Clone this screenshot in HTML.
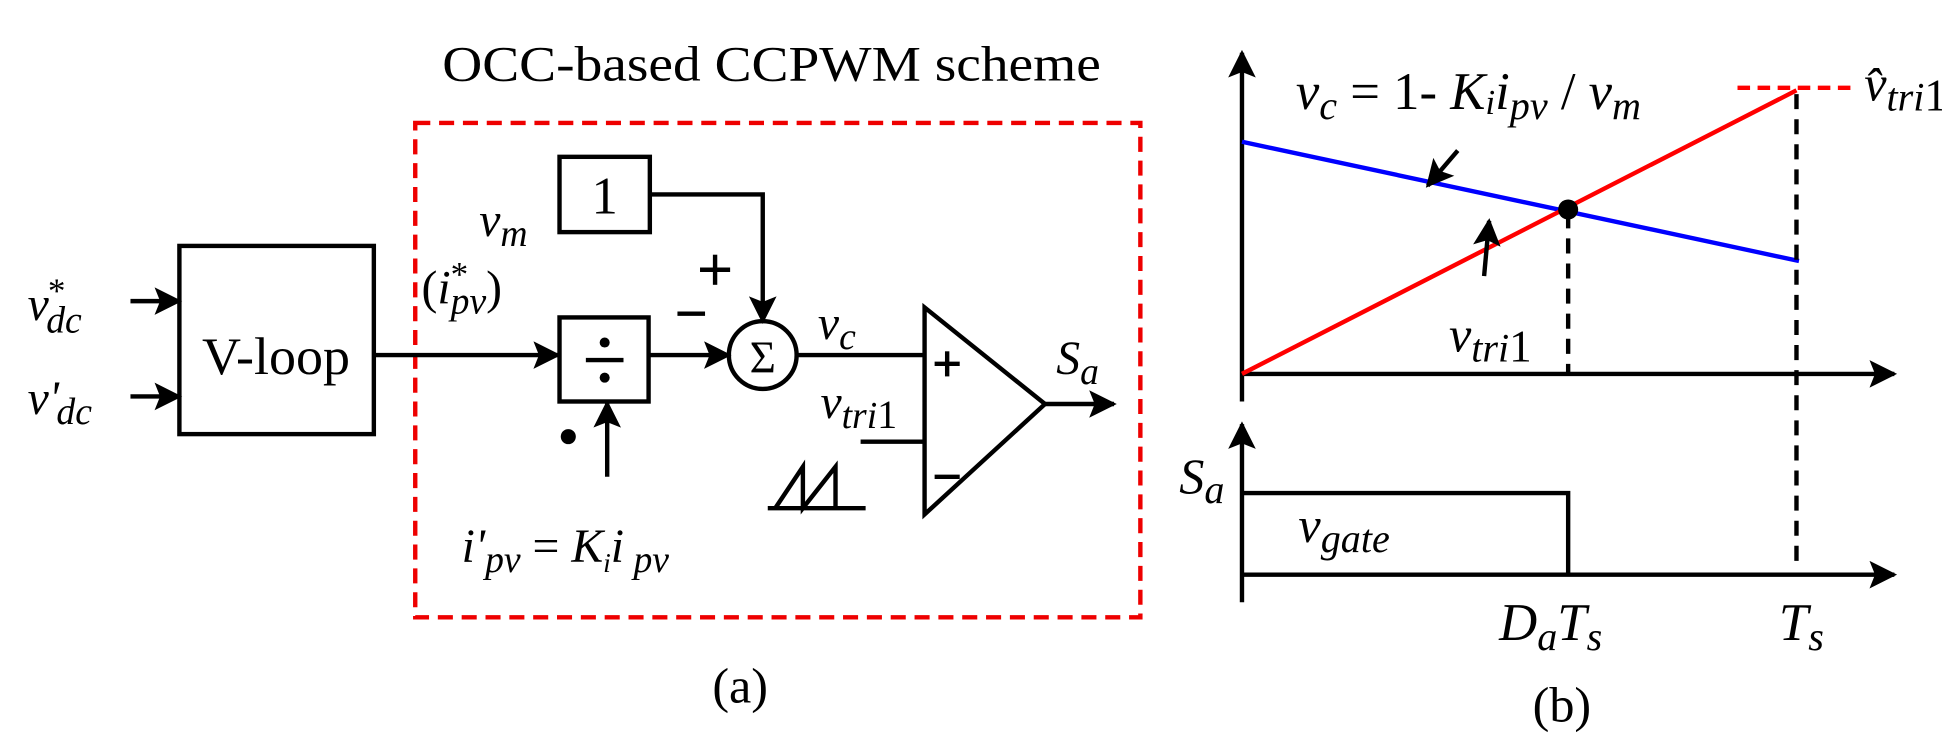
<!DOCTYPE html>
<html><head><style>
html,body{margin:0;padding:0;background:#fff}
svg{display:block}
text{font-family:"Liberation Serif",serif;fill:#000}
.i{font-style:italic}
</style></head><body>
<svg width="1942" height="739" viewBox="0 0 1548 589" preserveAspectRatio="none" xmlns="http://www.w3.org/2000/svg">
<defs>
<marker id="a" viewBox="0 0 10 10" refX="9" refY="5" markerWidth="26" markerHeight="22" markerUnits="userSpaceOnUse" orient="auto"><path d="M0,0L10,5L0,10L2,5z" fill="#000"/></marker>
</defs>
<g stroke="#000" stroke-width="3.5" fill="none">
<text x="615" y="64" font-size="40" text-anchor="middle" stroke="none" textLength="525" lengthAdjust="spacingAndGlyphs">OCC-based CCPWM scheme</text>
<rect x="331" y="98" width="578" height="394" stroke="#e00" stroke-dasharray="12,7"/>
<rect x="143" y="196" width="155" height="150"/>
<line x1="104" y1="240" x2="143" y2="240" marker-end="url(#a)"/>
<line x1="104" y1="316" x2="143" y2="316" marker-end="url(#a)"/>
<line x1="298" y1="283" x2="445" y2="283" marker-end="url(#a)"/>
<rect x="446" y="253" width="71" height="67"/>
<rect x="446" y="125" width="72" height="60"/>
<polyline points="518,155 608,155 608,256" marker-end="url(#a)"/>
<circle cx="608" cy="283" r="27"/>
<line x1="517" y1="283" x2="581" y2="283" marker-end="url(#a)"/>
<line x1="484" y1="380" x2="484" y2="321" marker-end="url(#a)"/>
<line x1="635" y1="283" x2="737" y2="283"/>
<polygon points="737,245 737,410 833,322"/>
<line x1="833" y1="322" x2="888" y2="322" marker-end="url(#a)"/>
<line x1="686" y1="352" x2="737" y2="352"/>
<polyline points="612,405 690,405"/>
<polyline points="618,405 640,372 640,405 666,372 666,405"/>
<line x1="745" y1="290" x2="765" y2="290"/><line x1="755" y1="280" x2="755" y2="300"/>
<line x1="745" y1="380" x2="765" y2="380"/>
<line x1="558" y1="215" x2="582" y2="215"/><line x1="570" y1="203" x2="570" y2="227"/>
<line x1="540" y1="250" x2="562" y2="250"/>
<line x1="467" y1="287" x2="497" y2="287"/>
</g>
<circle cx="482" cy="273" r="4"/><circle cx="482" cy="301" r="4"/>
<circle cx="453" cy="348" r="6"/>
<text x="482" y="170" font-size="42" text-anchor="middle">1</text>
<text x="608" y="297" font-size="36" text-anchor="middle">Σ</text>
<text x="220" y="298" font-size="42" text-anchor="middle" textLength="118" lengthAdjust="spacingAndGlyphs">V-loop</text>
<text x="22" y="255" font-size="38" class="i">v<tspan font-size="28" dx="-2" dy="-14">*</tspan><tspan font-size="30" dx="-14" dy="24">dc</tspan></text>
<text x="22" y="330" font-size="38" class="i">v'<tspan font-size="30" dx="-2" dy="8">dc</tspan></text>
<text x="382" y="188" font-size="38" class="i">v<tspan font-size="30" dy="8">m</tspan></text>
<text x="336" y="242" font-size="38">(<tspan class="i">i</tspan><tspan font-size="28" dy="-14">*</tspan><tspan class="i" font-size="30" dx="-14" dy="22">pv</tspan><tspan dy="-8">)</tspan></text>
<text x="368" y="448" font-size="38" class="i">i'<tspan font-size="30" dy="8">pv</tspan><tspan dy="-8" font-style="normal"> = </tspan>K<tspan font-size="22" dy="8">i</tspan><tspan dy="-8">i</tspan><tspan font-size="30" dy="8"> pv</tspan></text>
<text x="652" y="270" font-size="38" class="i">v<tspan font-size="30" dy="8">c</tspan></text>
<text x="654" y="333" font-size="38" class="i">v<tspan font-size="30" dy="8">tri</tspan><tspan font-style="normal" font-size="32">1</tspan></text>
<text x="842" y="298" font-size="38" class="i">S<tspan font-size="30" dy="8">a</tspan></text>
<text x="590" y="560" font-size="40" text-anchor="middle">(a)</text>
<g stroke="#000" stroke-width="3.5" fill="none">
<line x1="990" y1="320" x2="990" y2="42" marker-end="url(#a)"/>
<line x1="990" y1="298" x2="1510" y2="298" marker-end="url(#a)"/>
<line x1="990" y1="113" x2="1434" y2="208" stroke="#00f"/>
<line x1="990" y1="298" x2="1432" y2="72" stroke="#f00"/>
<line x1="1385" y1="70" x2="1480" y2="70" stroke="#f00" stroke-dasharray="10,6"/>
<line x1="1432" y1="75" x2="1432" y2="448" stroke-dasharray="12,8"/>
<line x1="1250" y1="170" x2="1250" y2="298" stroke-dasharray="12,8"/>
<line x1="1162" y1="120" x2="1138" y2="148" marker-end="url(#a)"/>
<line x1="1183" y1="220" x2="1187" y2="176" marker-end="url(#a)"/>
<line x1="990" y1="480" x2="990" y2="338" marker-end="url(#a)"/>
<line x1="990" y1="458" x2="1510" y2="458" marker-end="url(#a)"/>
<polyline points="990,393 1250,393 1250,458"/>
</g>
<circle cx="1250" cy="167" r="8"/>
<text x="1033" y="87" font-size="42" class="i">v<tspan font-size="32" dy="8">c</tspan><tspan dy="-8" font-style="normal"> = 1- </tspan>K<tspan font-size="28" dy="4">i</tspan><tspan dy="-4">i</tspan><tspan font-size="32" dy="8">pv</tspan><tspan dy="-8" font-style="normal"> / </tspan>v<tspan font-size="32" dy="8">m</tspan></text>
<text x="1486" y="80" font-size="40" class="i">v̂<tspan font-size="32" dy="8">tri</tspan><tspan font-style="normal" font-size="36">1</tspan></text>
<text x="1155" y="280" font-size="40" class="i">v<tspan font-size="32" dy="8">tri</tspan><tspan font-style="normal" font-size="36">1</tspan></text>
<text x="940" y="393" font-size="40" class="i">S<tspan font-size="32" dy="8">a</tspan></text>
<text x="1035" y="432" font-size="40" class="i">v<tspan font-size="32" dy="8">gate</tspan></text>
<text x="1195" y="510" font-size="42" class="i">D<tspan font-size="32" dy="8">a</tspan><tspan dy="-8">T</tspan><tspan font-size="32" dy="8">s</tspan></text>
<text x="1418" y="510" font-size="42" class="i">T<tspan font-size="32" dy="8">s</tspan></text>
<text x="1245" y="575" font-size="40" text-anchor="middle">(b)</text>
</svg>
</body></html>
